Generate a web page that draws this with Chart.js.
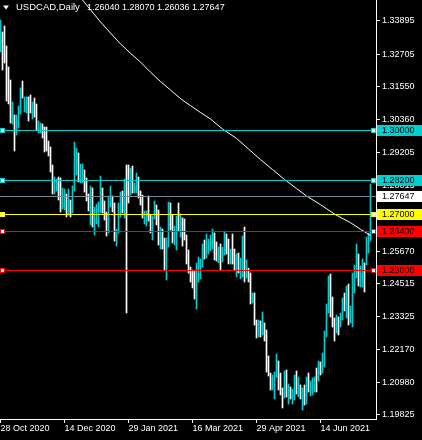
<!DOCTYPE html>
<html>
<head>
<meta charset="utf-8">
<script src="https://cdn.jsdelivr.net/npm/chart.js@4.4.1/dist/chart.umd.min.js"></script>
<style>
html,body{margin:0;padding:0;background:#000;}
canvas{display:block;background:#000;}
</style>
</head>
<body>
<canvas id="c" width="422" height="440"></canvas>
<script>
// ---- data (USDCAD daily bars) ----
const symbolTitle = 'USDCAD,Daily';
const lastOHLC = [1.26040, 1.28070, 1.26036, 1.27647];

const highs = [
1.33929,1.33500,1.33714,1.33000,1.32250,1.31786,1.31000,1.30536,1.30536,1.30857,
1.31500,1.31750,1.31179,1.31179,1.31179,1.31250,1.31000,1.31143,1.30929,1.30321,
1.30250,1.30214,1.30107,1.30107,1.29607,1.29393,1.28750,1.28321,1.28250,1.28321,
1.28286,1.27929,1.27893,1.27714,1.27893,1.27500,1.28000,1.29571,1.29357,1.29179,
1.28786,1.28786,1.28571,1.28286,1.27714,1.28000,1.27929,1.27250,1.27357,1.27429,
1.28357,1.27929,1.27464,1.27071,1.27643,1.28000,1.27643,1.27393,1.26464,1.27393,
1.27786,1.27821,1.28250,1.28750,1.28750,1.28643,1.28714,1.28107,1.28464,1.28321,
1.27821,1.27679,1.27107,1.27107,1.27643,1.26964,1.26929,1.27464,1.27321,1.27143,
1.26536,1.26464,1.26143,1.26143,1.27429,1.27393,1.26964,1.26571,1.26929,1.27393,
1.27000,1.26857,1.26821,1.26250,1.25714,1.25107,1.25000,1.24964,1.25250,1.25464,
1.25393,1.25929,1.26071,1.26286,1.26107,1.26250,1.26464,1.26321,1.26000,1.25821,
1.25929,1.25821,1.26357,1.26286,1.26107,1.25750,1.26286,1.25750,1.25571,1.25607,
1.25429,1.26214,1.26536,1.25357,1.25071,1.24893,1.24179,1.24179,1.23214,1.23214,
1.23179,1.23500,1.23107,1.22857,1.21929,1.21321,1.21250,1.21357,1.22000,1.21750,
1.21321,1.20786,1.21393,1.21429,1.20929,1.20822,1.20750,1.21250,1.21393,1.21179,
1.20893,1.20786,1.20893,1.21179,1.21321,1.21036,1.21143,1.21179,1.21500,1.21750,
1.21714,1.22036,1.22821,1.23786,1.24786,1.24857,1.24036,1.23286,1.23393,1.23321,
1.23464,1.24000,1.24179,1.24429,1.24500,1.23714,1.24893,1.25179,1.25929,1.25571,
1.25143,1.25393,1.25250,1.26179,1.26321,1.28070
];

const lows = [
1.32786,1.32143,1.32393,1.31036,1.30929,1.30250,1.30214,1.29250,1.29821,1.30071,
1.30571,1.31143,1.30643,1.30607,1.30321,1.30607,1.30393,1.30464,1.30000,1.29893,
1.29893,1.29714,1.29214,1.29250,1.29071,1.28500,1.27714,1.27714,1.27821,1.27500,
1.27071,1.27179,1.27143,1.26893,1.26964,1.26893,1.27036,1.27821,1.28393,1.28143,
1.28107,1.28107,1.27786,1.27464,1.27107,1.26607,1.26536,1.26250,1.26643,1.26536,
1.27036,1.27036,1.26786,1.26214,1.26321,1.27250,1.27071,1.26036,1.25857,1.26321,
1.26893,1.27036,1.26857,1.23464,1.27393,1.27679,1.27750,1.27750,1.27750,1.27571,
1.27321,1.26857,1.26643,1.26571,1.26750,1.26321,1.26071,1.26821,1.26607,1.25893,
1.25750,1.25750,1.25000,1.24643,1.25821,1.26429,1.25964,1.25893,1.25714,1.26393,
1.26179,1.25857,1.26071,1.25214,1.24893,1.24571,1.24357,1.23964,1.23607,1.24571,
1.24679,1.25107,1.25393,1.25429,1.25571,1.25679,1.25750,1.25357,1.25321,1.25250,
1.25000,1.25286,1.25536,1.25571,1.25214,1.25214,1.25214,1.25000,1.24750,1.24893,
1.24679,1.24750,1.24571,1.24714,1.24571,1.23786,1.23821,1.23036,1.22571,1.22607,
1.22607,1.22679,1.22464,1.21357,1.21214,1.20714,1.20714,1.20393,1.21179,1.20714,
1.20536,1.20072,1.20429,1.20465,1.20214,1.20393,1.20214,1.20357,1.20572,1.20465,
1.20393,1.20000,1.20179,1.20214,1.20643,1.20500,1.20536,1.20643,1.20643,1.21036,
1.21250,1.21321,1.21536,1.22607,1.23464,1.23321,1.22964,1.22464,1.22750,1.22679,
1.22964,1.23214,1.23536,1.23286,1.23036,1.23107,1.22964,1.24179,1.24714,1.24429,
1.24393,1.24393,1.24214,1.25179,1.25607,1.26036
];

// 1 = up bar (close above open), 0 = down bar
const upBar = [
1,0,0,0,0,0,1,0,1,1,
1,0,1,1,0,0,1,0,0,1,
1,0,0,0,0,0,0,1,1,0,
0,1,1,0,1,0,1,1,1,0,
1,1,0,0,0,1,0,1,1,1,
1,0,0,0,1,1,0,0,1,1,
1,0,1,0,0,1,0,1,1,0,
0,0,1,1,0,0,1,1,0,0,
1,0,0,1,1,0,0,1,1,0,
1,0,0,0,0,0,0,0,1,1,
1,1,0,1,1,1,1,0,0,1,
0,1,1,0,0,1,0,0,1,0,
1,1,0,1,0,0,1,0,0,1,
0,1,0,0,0,0,1,1,1,0,
0,0,1,0,1,0,1,1,0,1,
0,1,0,1,0,1,1,1,0,1,
0,1,1,1,1,0,0,0,1,0,
1,1,0,1,0,1,1,1,1,0,
1,1,0,1,1,1
];

// moving average, read at sampled bar indices
const maBars = [38,41,45,50,55,60,65,70,75,80,85,90,95,100,105,111,118,124,130,136,142,148,153,160,167,175,180,185];
const maValues = [1.34914,1.34643,1.34293,1.33861,1.33461,1.33075,1.32739,1.32425,1.32064,1.31732,
                  1.31429,1.31121,1.30868,1.30625,1.30393,1.30036,1.29700,1.29322,1.28943,1.28590,
                  1.28232,1.27911,1.27643,1.27333,1.26996,1.26690,1.26454,1.26232];

// date axis
const dateTickBars = [0,32,64,96,128,160];
const dateTickLabels = ['28 Oct 2020','14 Dec 2020','29 Jan 2021','16 Mar 2021','29 Apr 2021','14 Jun 2021'];

// price axis
const priceTicks = [1.33895,1.32705,1.31550,1.30360,1.29205,1.28015,1.26860,1.25670,1.24515,1.23325,1.22170,1.20980,1.19825];

// horizontal levels
const levelPrices = [1.30000,1.28200,1.27000,1.26400,1.25000];
const bidPrice = 1.27647;

// ---- styles ----
const CYAN = '#00CED1';
const levelColors = [CYAN, CYAN, '#FFFF00', '#FF0000', '#FF0000'];
const BID_COLOR = '#778899';
const FONT = "'Liberation Sans', Arial, sans-serif";

const levelsPlugin = {
  id: 'levels',
  afterDatasetsDraw(chart) {
    const {ctx, chartArea: a, scales: {y}} = chart;
    ctx.save();
    const w = a.right - a.left;
    const pb = Math.round(y.getPixelForValue(bidPrice));
    ctx.fillStyle = BID_COLOR;
    ctx.fillRect(a.left, pb, w, 1);
    levelPrices.forEach((v, i) => {
      const p = Math.round(y.getPixelForValue(v));
      ctx.fillStyle = levelColors[i];
      ctx.fillRect(a.left, p, w, 1);
      [a.left, a.right - 5].forEach(x => {
        ctx.fillStyle = levelColors[i];
        ctx.fillRect(x, p - 2, 5, 5);
        ctx.fillStyle = '#ffffff';
        ctx.fillRect(x + 1, p - 1, 3, 3);
      });
    });
    ctx.restore();
  },
  afterDraw(chart) {
    const {ctx, chartArea: a, scales: {y}} = chart;
    ctx.save();
    ctx.font = '9px ' + FONT;
    ctx.textBaseline = 'middle';
    ctx.textAlign = 'left';
    const box = (v, bg) => {
      const p = Math.round(y.getPixelForValue(v));
      ctx.fillStyle = bg;
      ctx.fillRect(a.right + 1, p - 5, 45, 11);
      ctx.fillStyle = '#000000';
      ctx.fillText(v.toFixed(5), a.right + 6, p + 0.5);
    };
    levelPrices.forEach((v, i) => { if (i < 2) box(v, levelColors[i]); });
    box(bidPrice, '#ffffff');
    levelPrices.forEach((v, i) => { if (i >= 2) box(v, levelColors[i]); });
    // title
    ctx.fillStyle = '#ffffff';
    ctx.beginPath();
    ctx.moveTo(3, 5.5); ctx.lineTo(9, 5.5); ctx.lineTo(6, 9.5); ctx.closePath(); ctx.fill();
    ctx.font = '9.5px ' + FONT;
    ctx.fillText(symbolTitle, 16, 7.5);
    ctx.font = '9px ' + FONT;
    ctx.fillText(lastOHLC.map(v => v.toFixed(5)).join(' '), 87, 7.5);
    ctx.restore();
  }
};

const noPad = s => { s.paddingTop = 0; s.paddingBottom = 0; s.paddingLeft = 0; s.paddingRight = 0; };

new Chart(document.getElementById('c'), {
  type: 'bar',
  data: {
    datasets: [
      {
        type: 'line',
        data: maBars.map((b, i) => ({x: b, y: maValues[i]})),
        borderColor: '#ffffff',
        borderWidth: 1,
        pointRadius: 0,
        tension: 0,
        order: 0
      },
      {
        type: 'bar',
        data: highs.map((h, i) => ({x: i, y: [lows[i], h]})),
        backgroundColor: upBar.map(u => u ? CYAN : '#ffffff'),
        borderWidth: 0,
        barThickness: 1,
        grouped: false,
        order: 1
      }
    ]
  },
  options: {
    responsive: false,
    animation: false,
    devicePixelRatio: 1,
    layout: {padding: 0, autoPadding: false},
    plugins: {legend: {display: false}, tooltip: {enabled: false}},
    scales: {
      x: {
        type: 'linear',
        min: -0.25,
        max: 187.75,
        offset: false,
        afterBuildTicks: s => { s.ticks = dateTickBars.map(v => ({value: v})); },
        afterFit: s => { s.height = 21; noPad(s); },
        ticks: {
          autoSkip: false, maxRotation: 0, minRotation: 0, align: 'start',
          color: '#ffffff', padding: 0,
          font: {family: FONT, size: 9},
          callback: v => dateTickLabels[dateTickBars.indexOf(v)]
        },
        grid: {drawOnChartArea: false, color: '#ffffff', tickLength: 4, offset: false},
        border: {color: '#ffffff', width: 1}
      },
      y: {
        position: 'right',
        min: 1.196786,
        max: 1.346429,
        afterBuildTicks: s => { s.ticks = priceTicks.map(v => ({value: v})); },
        afterFit: s => { s.width = 46; noPad(s); },
        ticks: {
          autoSkip: false, color: '#ffffff', padding: 2,
          font: {family: FONT, size: 9},
          callback: v => v.toFixed(5)
        },
        grid: {drawOnChartArea: false, color: '#ffffff', tickLength: 4},
        border: {color: '#ffffff', width: 1}
      }
    }
  },
  plugins: [levelsPlugin]
});
</script>
</body>
</html>
